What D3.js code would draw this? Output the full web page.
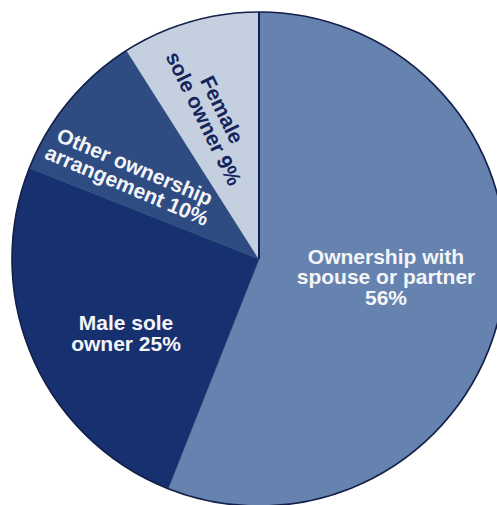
<!DOCTYPE html>
<html>
<head>
<meta charset="utf-8">
<script src="https://cdn.jsdelivr.net/npm/d3@7"></script>
<style>
  html, body { margin: 0; padding: 0; background: #fff; }
  svg { display: block; }
</style>
</head>
<body>
<svg id="chart" width="497" height="505"></svg>
<script>
// Home ownership arrangements, share of owners (%)
const categories = ["Ownership with spouse or partner", "Male sole owner", "Other ownership arrangement", "Female sole owner"];
const values = [56, 25, 10, 9];
const labelLines = [
  ["Ownership with", "spouse or partner", "56%"],
  ["Male sole", "owner 25%"],
  ["Other ownership", "arrangement 10%"],
  ["Female", "sole owner 9%"]
];
const sliceColors = ["#6682ae", "#17306f", "#2e4c82", "#c4d0e0"];
const textColors = ["#f4f5f8", "#f4f5f8", "#f4f5f8", "#15245a"];

const svg = d3.select("#chart");
const cx = 259, cy = 259, radius = 247;

const g = svg.append("g").attr("transform", `translate(${cx},${cy})`);

const data = categories.map((c, i) => ({ name: c, value: values[i], i }));
const pie = d3.pie().value(d => d.value).sort(null);
const arcs = pie(data);
const arc = d3.arc().innerRadius(0).outerRadius(radius);

g.selectAll("path.slice")
  .data(arcs)
  .join("path")
  .attr("class", "slice")
  .attr("d", arc)
  .attr("fill", d => sliceColors[d.data.i])
  .attr("stroke", d => sliceColors[d.data.i])
  .attr("stroke-width", 0.6);

// dark rule along the starting edge of the first slice (12 o'clock)
const startPt = d3.pointRadial(arcs[0].startAngle, radius);
g.append("line")
  .attr("x1", 0).attr("y1", 0)
  .attr("x2", startPt[0]).attr("y2", startPt[1])
  .attr("stroke", "#14214f")
  .attr("stroke-width", 2);

// outer rim
g.append("circle")
  .attr("r", radius)
  .attr("fill", "none")
  .attr("stroke", "#14204a")
  .attr("stroke-width", 1.6);

// label placement per slice: offset from centre, rotation
const labelPos = [
  { x: 127, y: 18, rot: 0 },
  { x: -133, y: 74, rot: 0 },
  { x: -128, y: -83, rot: 23 },
  { x: -46, y: -145, rot: 64 }
];
const fontSize = 21, lineH = 20.5;

arcs.forEach((a, k) => {
  const p = labelPos[k];
  const lines = labelLines[k];
  const t = g.append("text")
    .attr("transform", `translate(${p.x},${p.y}) rotate(${p.rot})`)
    .attr("text-anchor", "middle")
    .attr("font-family", "'Liberation Sans', Arial, Helvetica, sans-serif")
    .attr("font-weight", "bold")
    .attr("font-size", fontSize)
    .attr("fill", textColors[a.data.i]);
  const y0 = -(lines.length - 1) * lineH / 2 + fontSize * 0.35;
  lines.forEach((ln, j) => {
    t.append("tspan")
      .attr("x", 0)
      .attr("y", y0 + j * lineH)
      .text(ln);
  });
});
</script>
</body>
</html>
